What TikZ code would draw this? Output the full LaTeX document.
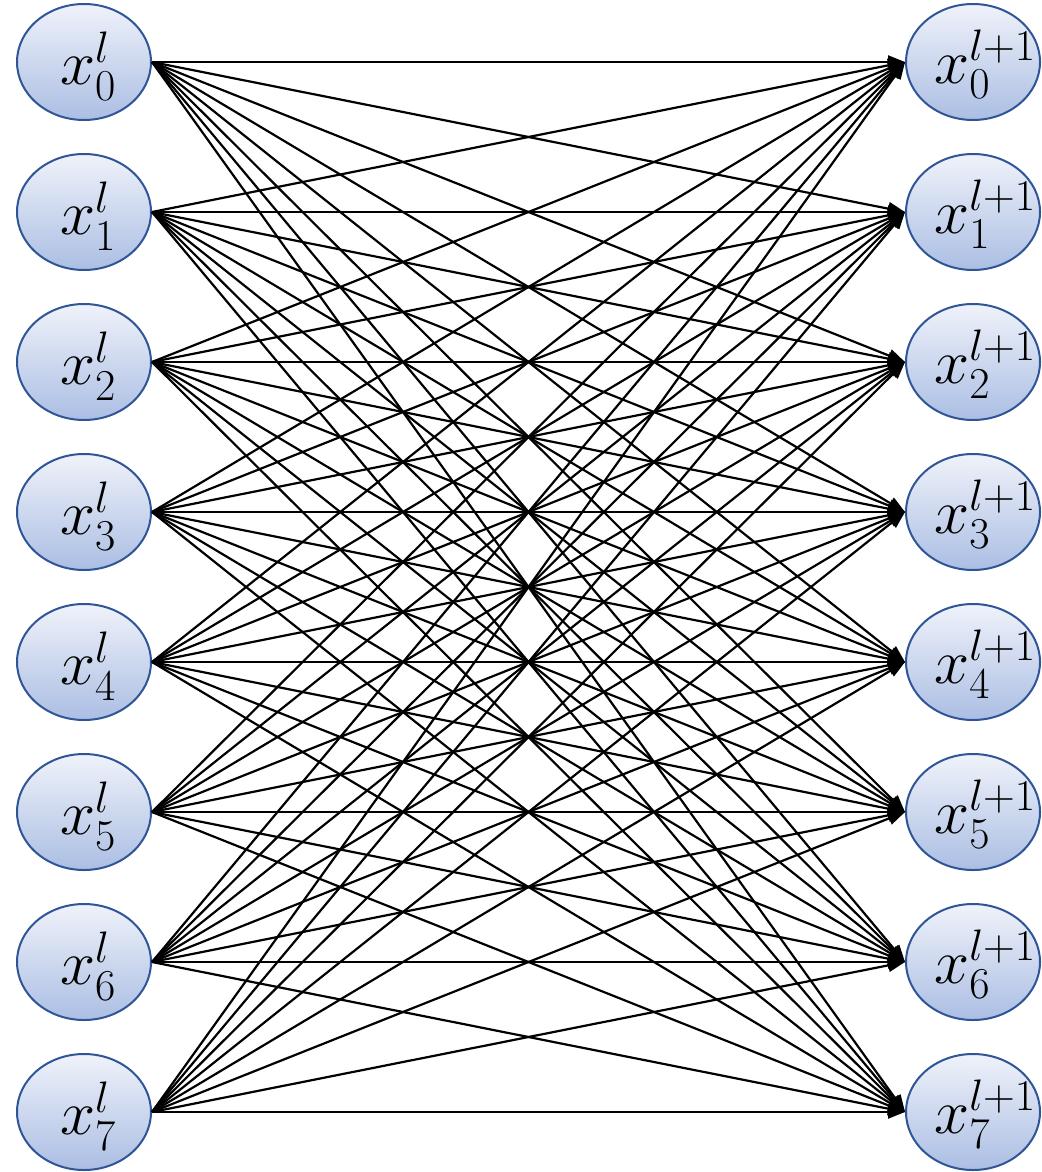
\RequirePackage{fix-cm}
\documentclass[tikz,border=0pt]{standalone}
\usetikzlibrary{arrows.meta,shapes.geometric}
\definecolor{nodetop}{HTML}{EFF2FA}
\definecolor{nodemid}{HTML}{CAD6EE}
\definecolor{nodebot}{HTML}{ABBEE3}
\definecolor{nodeborder}{HTML}{2F5597}
\begin{document}
\begin{tikzpicture}[x=1pt,y=-1pt,
  neuron/.style={ellipse, draw=nodeborder, line width=2pt,
    top color=nodetop, middle color=nodemid, bottom color=nodebot,
    minimum width=134pt, minimum height=116pt, inner sep=0pt},
  lbl/.style={inner sep=0pt, font=\fontsize{63}{70}\selectfont},
  conn/.style={line width=2.2pt, -{Triangle[length=17pt,width=13pt]}}]
\useasboundingbox (0,0) rectangle (1041,1172);
\foreach \i in {0,...,7}{
  \node[neuron] (L\i) at (84,{62+150*\i}) {};
  \node[neuron] (R\i) at (973,{62+150*\i}) {};
  \node[lbl] (tL\i) at (88,{66+150*\i}) {$x^{l}_{\i}$};
  \node[lbl, anchor=base west] (tR\i) at (934,{83+150*\i}) {$x^{l+1}_{\i}$};
}
\foreach \i in {0,...,7}{
  \foreach \j in {0,...,7}{
    \draw[conn] (L\i.east) -- (R\j.west);
  }
}
\end{tikzpicture}
\end{document}
